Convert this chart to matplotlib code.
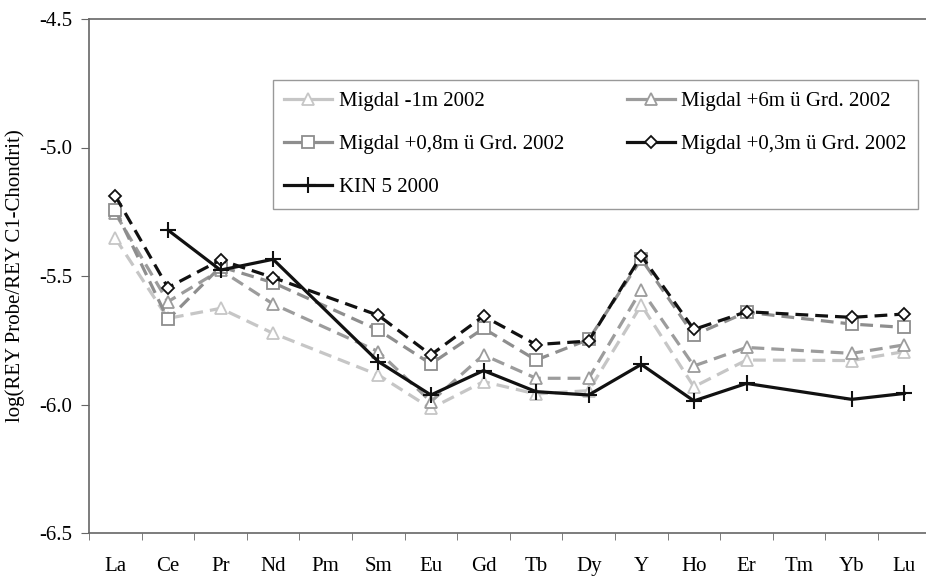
import numpy as np
import matplotlib
matplotlib.use("Agg")
import matplotlib.pyplot as plt
from matplotlib.lines import Line2D

plt.rcParams['font.family'] = ['Liberation Serif', 'DejaVu Serif']

elements = ["La", "Ce", "Pr", "Nd", "Pm", "Sm", "Eu", "Gd", "Tb", "Dy",
            "Y", "Ho", "Er", "Tm", "Yb", "Lu"]

nan = np.nan
migdal_m1 = [-5.353, -5.665, -5.626, -5.723, nan, -5.885, -6.015, -5.911, -5.959, -5.946,
             -5.613, -5.931, -5.827, nan, -5.829, -5.794]
migdal_p6 = [-5.256, -5.600, -5.477, -5.609, nan, -5.794, -5.989, -5.807, -5.898, -5.898,
             -5.554, -5.850, -5.778, nan, -5.801, -5.768]
migdal_p08 = [-5.243, -5.669, -5.464, -5.526, nan, -5.710, -5.842, -5.704, -5.827, -5.747,
              -5.434, -5.730, -5.641, nan, -5.687, -5.700]
migdal_p03 = [-5.188, -5.545, -5.438, -5.506, nan, -5.653, -5.807, -5.656, -5.767, -5.753,
              -5.421, -5.708, -5.639, nan, -5.661, -5.648]
kin5 = [nan, -5.321, -5.477, -5.435, nan, -5.833, -5.963, -5.868, -5.950, -5.963,
        -5.844, -5.986, -5.918, nan, -5.980, -5.957]

yticks = [-4.5, -5.0, -5.5, -6.0, -6.5]

W, H = 926, 577
fig = plt.figure(figsize=(W / 100, H / 100), dpi=100)
ax = fig.add_axes([89 / W, (H - 533) / H, 841.6 / W, 514 / H])

x = np.arange(len(elements))
dash = (4.0, 2.2)

series = [
    ("Migdal -1m 2002", migdal_m1, dict(color="#c6c6c6", marker="^", mfc="white",
                                         mec="#c6c6c6", ms=8.5, dashes=dash)),
    ("Migdal +6m ü Grd. 2002", migdal_p6, dict(color="#9c9c9c", marker="^", mfc="white",
                                               mec="#9c9c9c", ms=8.5, dashes=dash)),
    ("Migdal +0,8m ü Grd. 2002", migdal_p08, dict(color="#8e8e8e", marker="s", mfc="white",
                                                  mec="#8e8e8e", ms=8.5, dashes=dash)),
    ("Migdal +0,3m ü Grd. 2002", migdal_p03, dict(color="#111111", marker="D", mfc="white",
                                                  mec="#111111", ms=6.5, dashes=dash)),
    ("KIN 5 2000", kin5, dict(color="#111111", marker="+", mec="#111111", ms=12,
                              mew=1.5, linestyle="-")),
]

handles = {}
for label, vals, style in series:
    v = np.array(vals, dtype=float)
    ok = ~np.isnan(v)
    mew = style.pop("mew", 1.3)
    ax.plot(x[ok], v[ok], lw=2.3, mew=mew, label=label, **style)
    # legend key: short solid segment with the marker in the middle
    key = {k: val for k, val in style.items() if k not in ("dashes", "linestyle")}
    handles[label] = Line2D([], [], lw=2.3, mew=mew, linestyle="-", **key)

ax.set_xlim(-0.5, len(elements) - 0.5)
ax.set_ylim(-6.5, -4.5)
ax.set_yticks(yticks)
ax.set_yticklabels([f"{t:.1f}" for t in yticks], fontsize=15)
ax.set_xticks(x)
ax.set_xticklabels(elements, fontsize=15)
ax.set_xticks(np.arange(-0.5, len(elements)), minor=True)
ax.tick_params(axis="x", which="major", length=0, pad=17)
ax.tick_params(axis="x", which="minor", length=5, color="#666666", direction="out")
ax.tick_params(axis="y", length=6, color="#666666", direction="out", pad=6)

for s in ax.spines.values():
    s.set_color("#666666")
    s.set_linewidth(1.2)

ax.set_ylabel("log(REY Probe/REY C1-Chondrit)", fontsize=15, labelpad=10)

order = ["Migdal -1m 2002", "Migdal +0,8m ü Grd. 2002", "KIN 5 2000",
         "Migdal +6m ü Grd. 2002", "Migdal +0,3m ü Grd. 2002"]
leg = ax.legend([handles[k] for k in order], order, ncol=2, loc="upper left",
                bbox_to_anchor=(273 / W, (H - 211) / H, 645 / W, 131 / H),
                bbox_transform=fig.transFigure,
                mode="expand", fontsize=15, frameon=True, fancybox=False,
                handlelength=2.3, handletextpad=0.3, labelspacing=1.13,
                borderpad=0.55, borderaxespad=0)
leg.get_frame().set_edgecolor("#808080")
leg.get_frame().set_linewidth(1.0)

fig.savefig("out.png", dpi=100)
